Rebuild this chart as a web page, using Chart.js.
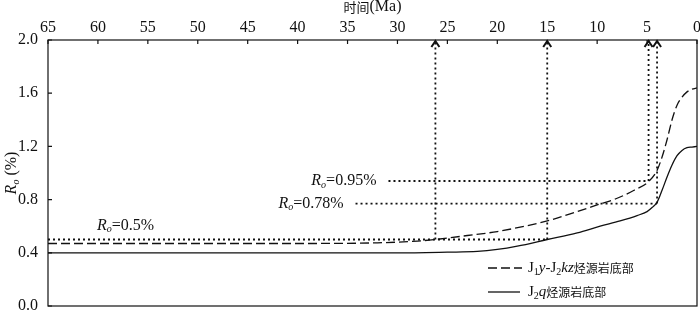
<!DOCTYPE html>
<html>
<head>
<meta charset="utf-8">
<script src="https://cdn.jsdelivr.net/npm/chart.js@4"></script>
<style>
  body { margin: 0; background: #fff; }
  canvas { display: block; }
</style>
</head>
<body>
<canvas id="ro-chart" width="700" height="312"></canvas>
<script>
// Ro evolution of source rock bases vs time (Ma)

// J1y-J2kz source rock base (dashed)
const timeDashed = [65, 50, 40, 32, 28, 26.2, 23, 20, 15, 12, 10, 8, 6.3, 4.85, 4.0, 3.5, 3.0, 2.5, 2.0, 1.5, 1.0, 0.5, 0];
const roDashed   = [0.47, 0.47, 0.47, 0.475, 0.488, 0.5, 0.53, 0.56, 0.64, 0.71, 0.76, 0.81, 0.87, 0.935, 1.02, 1.12, 1.25, 1.4, 1.51, 1.57, 1.61, 1.63, 1.64];

// J2q source rock base (solid)
const timeSolid = [65, 40, 30, 25, 22, 20, 18, 15, 12, 9.7, 7.7, 6, 5, 4.5, 4.0, 3.5, 3.0, 2.5, 2.0, 1.5, 1.0, 0.5, 0];
const roSolid   = [0.4, 0.4, 0.4, 0.405, 0.41, 0.425, 0.45, 0.5, 0.55, 0.6, 0.64, 0.68, 0.71, 0.74, 0.78, 0.87, 0.97, 1.06, 1.13, 1.17, 1.19, 1.195, 1.2];

// horizontal Ro threshold lines (dotted)
const levelRo    = [0.5, 0.94, 0.77];
const levelFrom  = [65, 30.9, 34.2];
const levelTo    = [15, 4.85, 4.0];
const levelLabel = ['0.5%', '0.95%', '0.78%'];

// vertical time markers with arrows (dotted)
const markTime = [26.2, 15, 4.85, 4.0];
const markBase = [0.5, 0.5, 0.94, 0.77];

const xTicks = [65, 60, 55, 50, 45, 40, 35, 30, 25, 20, 15, 10, 5, 0];
const yTicks = [0, 0.4, 0.8, 1.2, 1.6, 2.0];

const legendNames = ['J1y-J2kz烃源岩底部', 'J2q烃源岩底部'];

const SERIF = '"Liberation Serif", "Times New Roman", serif';
const CJK = '"Noto Sans CJK SC", sans-serif';

function toPoints(xs, ys) {
    return xs.map((t, i) => ({ x: t, y: ys[i] }));
}

const datasets = [
    {
        label: legendNames[0],
        data: toPoints(timeDashed, roDashed),
        borderColor: '#111',
        borderWidth: 1.3,
        borderDash: [9, 4],
        cubicInterpolationMode: 'monotone',
        pointRadius: 0
    },
    {
        label: legendNames[1],
        data: toPoints(timeSolid, roSolid),
        borderColor: '#111',
        borderWidth: 1.3,
        cubicInterpolationMode: 'monotone',
        pointRadius: 0
    }
];

levelRo.forEach((r, i) => {
    datasets.push({
        data: [{ x: levelFrom[i], y: r }, { x: levelTo[i], y: r }],
        borderColor: '#111',
        borderWidth: 1.8,
        borderDash: [2, 3],
        pointRadius: 0
    });
});

markTime.forEach((t, i) => {
    datasets.push({
        data: [{ x: t, y: markBase[i] }, { x: t, y: 2.0 }],
        borderColor: '#111',
        borderWidth: 1.8,
        borderDash: [2, 3],
        pointRadius: 0
    });
});

// draw mixed-style text runs: {t, it (italic), sub, cjk}
function drawRuns(ctx, runs, x, y, align, size) {
    size = size || 16;
    const fontOf = r => {
        if (r.cjk) return (size - 3) + 'px ' + CJK;
        return (r.it ? 'italic ' : '') + (r.sub ? Math.round(size * 0.65) : size) + 'px ' + SERIF;
    };
    let total = 0;
    runs.forEach(r => { ctx.font = fontOf(r); total += ctx.measureText(r.t).width; });
    let cx = align === 'right' ? x - total : (align === 'center' ? x - total / 2 : x);
    ctx.textBaseline = 'middle';
    ctx.textAlign = 'left';
    runs.forEach(r => {
        ctx.font = fontOf(r);
        ctx.fillText(r.t, cx, y + (r.sub ? 4 : 0));
        cx += ctx.measureText(r.t).width;
    });
}

const decorPlugin = {
    id: 'decor',
    afterDraw(chart) {
        const { ctx, chartArea: a, scales: { x, y } } = chart;
        ctx.save();
        ctx.fillStyle = '#111';
        ctx.strokeStyle = '#111';

        // frame
        ctx.lineWidth = 1.2;
        ctx.strokeRect(a.left, a.top, a.right - a.left, a.bottom - a.top);

        // inward ticks
        ctx.beginPath();
        xTicks.forEach(t => {
            const px = x.getPixelForValue(t);
            ctx.moveTo(px, a.top);
            ctx.lineTo(px, a.top + 4);
        });
        yTicks.forEach(v => {
            const py = y.getPixelForValue(v);
            ctx.moveTo(a.left, py);
            ctx.lineTo(a.left + 4, py);
        });
        ctx.stroke();

        // arrow heads on vertical markers
        ctx.lineWidth = 2;
        markTime.forEach(t => {
            const px = x.getPixelForValue(t);
            const py = y.getPixelForValue(2.0) + 1;
            ctx.beginPath();
            ctx.moveTo(px - 4, py + 6);
            ctx.lineTo(px, py);
            ctx.lineTo(px + 4, py + 6);
            ctx.stroke();
        });

        // axis titles
        drawRuns(ctx, [{ t: '时间', cjk: true }, { t: '(Ma)' }], (a.left + a.right) / 2, 7, 'center', 16);

        ctx.save();
        ctx.translate(12, (a.top + a.bottom) / 2);
        ctx.rotate(-Math.PI / 2);
        drawRuns(ctx, [{ t: 'R', it: true }, { t: 'o', it: true, sub: true }, { t: ' (%)' }], 0, 0, 'center', 16);
        ctx.restore();

        // Ro threshold labels
        levelRo.forEach((r, i) => {
            const runs = [{ t: 'R', it: true }, { t: 'o', it: true, sub: true }, { t: '=' + levelLabel[i] }];
            if (i === 0) {
                drawRuns(ctx, runs, x.getPixelForValue(60.1), y.getPixelForValue(r) - 14, 'left', 16);
            } else {
                drawRuns(ctx, runs, x.getPixelForValue(levelFrom[i]) - 12, y.getPixelForValue(r), 'right', 16);
            }
        });

        // legend
        const lx = 488, ly = [268, 292];
        ctx.lineWidth = 1.3;
        ctx.setLineDash([9, 4]);
        ctx.beginPath();
        ctx.moveTo(lx, ly[0]);
        ctx.lineTo(lx + 34, ly[0]);
        ctx.stroke();
        ctx.setLineDash([]);
        ctx.beginPath();
        ctx.moveTo(lx, ly[1]);
        ctx.lineTo(lx + 32, ly[1]);
        ctx.stroke();
        drawRuns(ctx, [
            { t: 'J' }, { t: '1', sub: true }, { t: 'y', it: true }, { t: '-J' },
            { t: '2', sub: true }, { t: 'kz', it: true }, { t: '烃源岩底部', cjk: true }
        ], lx + 40, ly[0], 'left', 15);
        drawRuns(ctx, [
            { t: 'J' }, { t: '2', sub: true }, { t: 'q', it: true }, { t: '烃源岩底部', cjk: true }
        ], lx + 40, ly[1], 'left', 15);

        ctx.restore();
    }
};

function zeroPad(s) {
    s.paddingLeft = 0;
    s.paddingRight = 0;
    s.paddingTop = 0;
    s.paddingBottom = 0;
}

new Chart(document.getElementById('ro-chart').getContext('2d'), {
    type: 'line',
    data: { datasets },
    plugins: [decorPlugin],
    options: {
        responsive: false,
        animation: false,
        layout: { padding: { top: 0, right: 3, bottom: 6, left: 0 } },
        plugins: {
            legend: { display: false },
            tooltip: { enabled: false }
        },
        scales: {
            x: {
                type: 'linear',
                position: 'top',
                reverse: true,
                min: 0,
                max: 65,
                afterFit: s => { s.height = 40; zeroPad(s); },
                afterBuildTicks: s => { s.ticks = xTicks.map(v => ({ value: v })); },
                grid: { display: false, drawTicks: false, tickLength: 0 },
                border: { display: false },
                ticks: {
                    padding: 3,
                    color: '#111',
                    font: { family: SERIF, size: 16 },
                    maxRotation: 0
                }
            },
            y: {
                type: 'linear',
                min: 0,
                max: 2.0,
                afterFit: s => { s.width = 48; zeroPad(s); },
                afterBuildTicks: s => { s.ticks = yTicks.map(v => ({ value: v })); },
                grid: { display: false, drawTicks: false, tickLength: 0 },
                border: { display: false },
                ticks: {
                    padding: 10,
                    color: '#111',
                    font: { family: SERIF, size: 16 },
                    callback: v => v.toFixed(1)
                }
            }
        }
    }
});
</script>
</body>
</html>
